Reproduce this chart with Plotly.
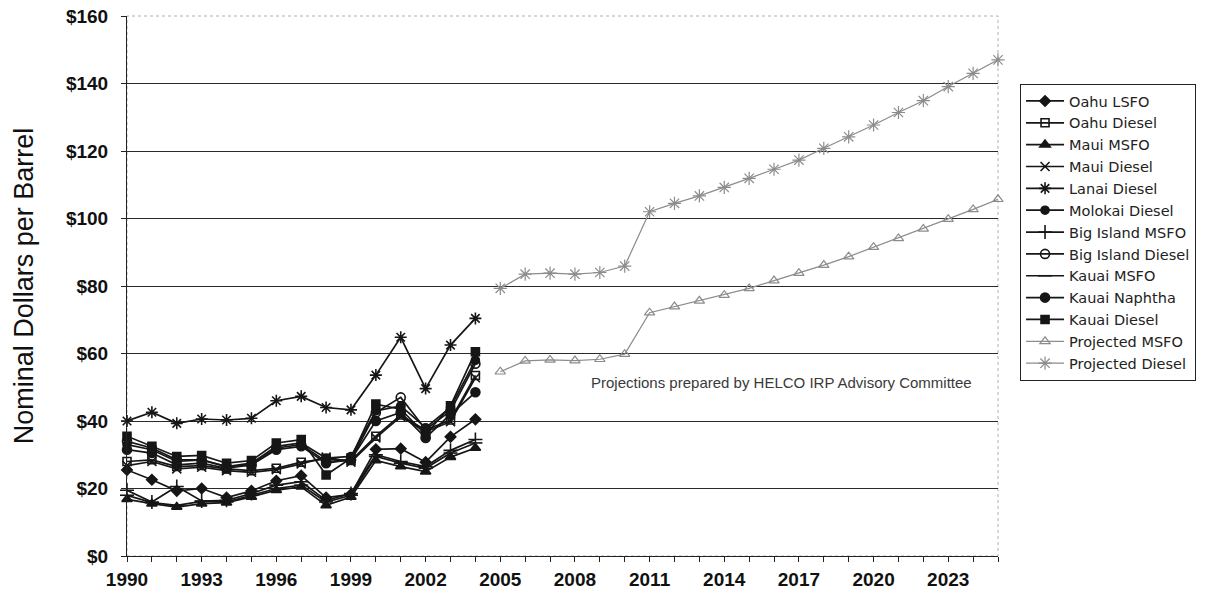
import plotly.graph_objects as go

# Historical fuel prices, 1990-2004 (nominal $/barrel)
years_hist = list(range(1990, 2005))
oahu_lsfo = [25.5, 22.6, 19.3, 20.0, 17.3, 19.3, 22.3, 23.8, 17.3, 18.3, 31.6, 31.8, 27.8, 35.3, 40.5]
oahu_diesel = [28.0, 28.5, 26.5, 26.8, 25.8, 25.3, 26.0, 27.8, 28.8, 28.3, 35.5, 41.8, 37.3, 40.3, 53.5]
maui_msfo = [16.8, 15.5, 14.5, 15.5, 15.8, 17.5, 19.5, 20.5, 15.0, 17.5, 28.3, 26.5, 25.0, 29.3, 32.0]
maui_diesel = [26.8, 28.0, 25.8, 26.3, 25.3, 24.8, 25.6, 27.3, 29.3, 27.8, 35.0, 41.3, 36.8, 39.8, 52.8]
lanai_diesel = [40.0, 42.6, 39.3, 40.6, 40.3, 40.8, 46.0, 47.3, 44.0, 43.3, 53.6, 64.8, 49.6, 62.5, 70.4]
molokai_diesel = [33.0, 31.5, 28.0, 28.5, 26.5, 27.5, 32.5, 33.5, 29.0, 29.5, 43.0, 44.5, 38.0, 44.0, 58.0]
big_island_msfo = [19.5, 16.0, 20.6, 16.3, 16.5, 18.5, 21.0, 22.0, 16.5, 18.5, 30.0, 28.0, 26.5, 31.3, 34.5]
big_island_diesel = [34.0, 32.0, 28.5, 28.5, 26.5, 27.0, 32.0, 33.0, 28.0, 28.5, 42.5, 47.0, 37.5, 43.0, 57.0]
kauai_msfo = [18.0, 15.8, 15.0, 16.2, 16.0, 18.0, 20.0, 21.0, 16.0, 18.0, 29.5, 27.5, 26.0, 30.5, 33.5]
kauai_naphtha = [31.5, 30.5, 27.0, 27.5, 26.0, 27.0, 31.5, 32.5, 27.5, 28.5, 40.0, 42.5, 35.0, 42.0, 48.5]
kauai_diesel = [35.5, 32.5, 29.5, 29.8, 27.5, 28.3, 33.5, 34.5, 24.0, 29.0, 45.0, 43.5, 36.0, 44.5, 60.5]

# Projections, 2005-2025
years_proj = list(range(2005, 2026))
proj_msfo = [54.6, 57.8, 58.1, 57.9, 58.3, 59.8, 72.1, 73.9, 75.6, 77.3, 79.3,
             81.6, 83.8, 86.2, 88.7, 91.5, 94.1, 96.9, 99.8, 102.7, 105.7]
proj_diesel = [79.3, 83.5, 83.8, 83.5, 84.0, 85.9, 102.0, 104.5, 106.7, 109.2, 111.9,
               114.6, 117.3, 120.8, 124.2, 127.7, 131.4, 134.9, 139.1, 143.0, 147.0]

x_ticks = list(range(1990, 2024, 3))
y_ticks = list(range(0, 161, 20))

HIST = "#161616"
PROJ = "#8c8c8c"

series = [
    ("Oahu LSFO", years_hist, oahu_lsfo, HIST, "diamond", 8),
    ("Oahu Diesel", years_hist, oahu_diesel, HIST, "square-open", 8),
    ("Maui MSFO", years_hist, maui_msfo, HIST, "triangle-up", 9),
    ("Maui Diesel", years_hist, maui_diesel, HIST, "x-thin-open", 9),
    ("Lanai Diesel", years_hist, lanai_diesel, HIST, "asterisk-open", 10),
    ("Molokai Diesel", years_hist, molokai_diesel, HIST, "circle", 8),
    ("Big Island MSFO", years_hist, big_island_msfo, HIST, "cross-thin-open", 10),
    ("Big Island Diesel", years_hist, big_island_diesel, HIST, "circle-open", 9),
    ("Kauai MSFO", years_hist, kauai_msfo, HIST, "line-ew-open", 10),
    ("Kauai Naphtha", years_hist, kauai_naphtha, HIST, "circle", 9),
    ("Kauai Diesel", years_hist, kauai_diesel, HIST, "square", 8),
    ("Projected MSFO", years_proj, proj_msfo, PROJ, "triangle-up-open", 9),
    ("Projected Diesel", years_proj, proj_diesel, PROJ, "asterisk-open", 11),
]

fig = go.Figure()
for name, xs, ys, color, symbol, size in series:
    is_proj = color == PROJ
    fig.add_trace(go.Scatter(
        x=xs, y=ys, name=name, mode="lines+markers",
        line=dict(color=color, width=1.2 if is_proj else 1.7),
        marker=dict(symbol=symbol, size=size, color=color,
                    line=dict(color=color, width=1.2 if is_proj else 1.6)),
        cliponaxis=False,
    ))

# light frame around the plotting area (top and right edges)
fig.add_shape(type="rect", xref="x domain", yref="y domain", x0=0, x1=1, y0=0, y1=1,
              line=dict(color="#b0b0b0", width=1, dash="dot"), layer="below")

fig.add_annotation(
    x=2016.3, y=51.3, xref="x", yref="y",
    text="Projections prepared by HELCO IRP Advisory Committee",
    showarrow=False, font=dict(family="Liberation Sans, Arial", size=15, color="#3a3a3a"),
)

fig.update_layout(
    width=1209, height=589,
    margin=dict(l=127, r=211, t=16, b=33),
    paper_bgcolor="white", plot_bgcolor="white",
    font=dict(family="Liberation Sans, Arial, sans-serif", color="#111111"),
    legend=dict(
        x=1.0253, y=0.874, xanchor="left", yanchor="top",
        bordercolor="#222222", borderwidth=1, bgcolor="white",
        font=dict(family="DejaVu Sans", size=14.5, color="#222222"),
        itemwidth=38, tracegroupgap=0,
    ),
)

TICKFONT = dict(family="Liberation Sans, Arial", size=19, color="#111111", weight="bold")

fig.update_xaxes(
    range=[1990, 2025], tickvals=x_ticks, ticks="outside", ticklen=5,
    tickcolor="#222222", showline=True, linecolor="#222222", linewidth=1,
    showgrid=False, zeroline=False, ticklabelstandoff=1, automargin=False,
    tickfont=TICKFONT,
    minor=dict(dtick=1, tick0=1990, ticks="outside", ticklen=5, tickcolor="#222222", showgrid=False),
)
fig.update_yaxes(
    range=[0, 160], tickvals=y_ticks, ticktext=[f"${v}" for v in y_ticks],
    ticks="outside", ticklen=5, tickcolor="#222222", ticklabelstandoff=9,
    showline=True, linecolor="#222222", linewidth=1, automargin=False,
    showgrid=True, gridcolor="#2a2a2a", gridwidth=1, zeroline=False,
    tickfont=TICKFONT,
    title=dict(text="Nominal Dollars per Barrel", standoff=24,
               font=dict(family="Liberation Sans, Arial", size=27, color="#111111")),
)

fig.write_html("out.html")
